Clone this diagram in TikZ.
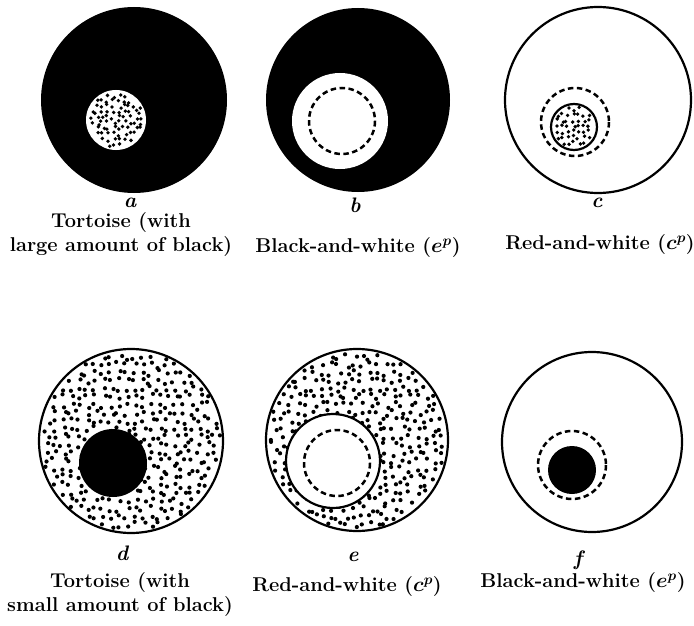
\documentclass[tikz,border=0pt]{standalone}
\usepackage{xcolor}
\usetikzlibrary{math}

% stippled disk: centre x, centre y, radius, grid step, dot size
\newcommand{\dotdisk}[5]{%
  \pgfmathsetmacro{\sA}{-#3}%
  \pgfmathsetmacro{\sB}{-#3+#4}%
  \foreach \gx in {\sA,\sB,...,#3}{%
    \foreach \gy in {\sA,\sB,...,#3}{%
      \pgfmathsetmacro{\dx}{\gx+0.4*#4*rand}%
      \pgfmathsetmacro{\dy}{\gy+0.4*#4*rand}%
      \pgfmathtruncatemacro{\inside}{((\dx/#3)^2+(\dy/#3)^2<((#3-2.5)/#3)^2) ? 1 : 0}%
      \ifnum\inside=1 \fill ({#1+(\dx)},{#2+(\dy)}) circle[radius=#5]; \fi
    }}}

\begin{document}
\begin{tikzpicture}[x=1pt,y=-1pt,
  rim/.style={line width=2.2pt},
  dashrim/.style={line width=2.5pt, dash pattern=on 5.5pt off 3.5pt},
  letter/.style={font=\fontsize{21}{24}\selectfont\bfseries\itshape},
  caption/.style={font=\fontsize{20}{24}\selectfont\bfseries\boldmath, align=center}]

\useasboundingbox (0,0) rectangle (694,626);
\pgfmathsetseed{4711}

%a:
\fill (134,100) circle[radius=93];
\fill[white] (116,120) circle[radius=30];
\dotdisk{116}{120}{30}{5.5}{1.9}
\node[letter] (labA) at (130,203) {a};
\node[caption] (capA) at (121,235) {Tortoise (with\\large amount of black)};

%b:
\fill (358,100) circle[radius=92];
\fill[white] (340,121) circle[radius=48];
\draw[dashrim] (342,121) circle[radius=33];
\node[letter] (labB) at (355,205) {b};
\node[caption] (capB) at (358,248) {Black-and-white ($e^{p}$)};

%c:
\draw[rim] (598,100) circle[radius=93];
\draw[dashrim] (575,122) circle[radius=34];
\dotdisk{574}{127}{23}{5.5}{1.9}
\draw[rim] (574,127) circle[radius=23];
\node[letter] (labC) at (597,203) {c};
\node[caption] (capC) at (600,245) {Red-and-white ($c^{p}$)};

%d:
\dotdisk{131}{441}{92}{8}{2.1}
\draw[rim] (131,441) circle[radius=92];
\fill (113,463) circle[radius=34];
\node[letter] (labD) at (122,553) {d};
\node[caption] (capD) at (120,595) {Tortoise (with\\small amount of black)};

%e:
\dotdisk{357}{440}{91}{8}{2.1}
\draw[rim] (357,440) circle[radius=91];
\draw[rim, fill=white] (333,461) circle[radius=47];
\draw[dashrim] (337,463) circle[radius=33];
\node[letter] (labE) at (353,557) {e};
\node[caption] (capE) at (347,587) {Red-and-white ($c^{p}$)};

%f:
\draw[rim] (592,442) circle[radius=90];
\draw[dashrim] (572,465) circle[radius=34];
\fill (572,470) circle[radius=24];
\node[letter] (labF) at (578,560) {f};
\node[caption] (capF) at (583,583) {Black-and-white ($e^{p}$)};

\end{tikzpicture}
\end{document}
